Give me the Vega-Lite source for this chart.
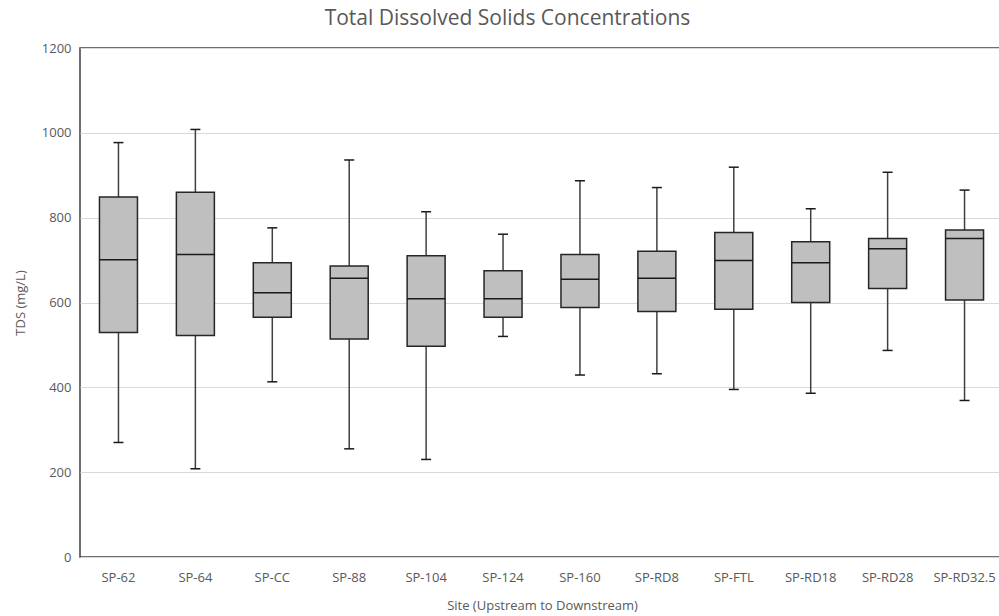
{
  "$schema": "https://vega.github.io/schema/vega-lite/v6.json",
  "width": 923,
  "height": 509,
  "autosize": "none",
  "padding": {"left": 80, "top": 48, "right": 0, "bottom": 59},
  "background": "white",
  "title": {"text": "Total Dissolved Solids Concentrations", "fontSize": 21, "font": "Open Sans", "fontWeight": "normal", "color": "#595959", "anchor": "middle", "dx": -34, "offset": 13},
  "config": {
    "view": {"stroke": "#404040", "strokeWidth": 1.5},
    "font": "Open Sans"
  },
  "data": {"values": [
    {"site": "SP-62", "min": 270, "q1": 529, "median": 701, "q3": 849, "max": 977},
    {"site": "SP-64", "min": 208, "q1": 522, "median": 713, "q3": 860, "max": 1008},
    {"site": "SP-CC", "min": 413, "q1": 565, "median": 623, "q3": 694, "max": 776},
    {"site": "SP-88", "min": 255, "q1": 514, "median": 657, "q3": 686, "max": 936},
    {"site": "SP-104", "min": 230, "q1": 497, "median": 609, "q3": 710, "max": 814},
    {"site": "SP-124", "min": 520, "q1": 565, "median": 609, "q3": 675, "max": 761},
    {"site": "SP-160", "min": 429, "q1": 588, "median": 655, "q3": 713, "max": 887},
    {"site": "SP-RD8", "min": 432, "q1": 579, "median": 657, "q3": 721, "max": 871},
    {"site": "SP-FTL", "min": 395, "q1": 584, "median": 699, "q3": 765, "max": 919},
    {"site": "SP-RD18", "min": 386, "q1": 600, "median": 694, "q3": 743, "max": 821},
    {"site": "SP-RD28", "min": 487, "q1": 633, "median": 727, "q3": 751, "max": 907},
    {"site": "SP-RD32.5", "min": 369, "q1": 606, "median": 751, "q3": 771, "max": 865}
  ]},
  "encoding": {
    "x": {
      "field": "site", "type": "nominal", "sort": null,
      "scale": {"paddingInner": 0, "paddingOuter": 0},
      "axis": {"title": "Site (Upstream to Downstream)", "labelAngle": 0, "labelFontSize": 13, "labelColor": "#595959", "labelPadding": 14, "ticks": false, "domain": false, "titleFontSize": 13, "titleFontWeight": "normal", "titleColor": "#595959", "titlePadding": 15, "titleX": 462, "titleAnchor": "middle"}
    }
  },
  "layer": [
    {
      "mark": {"type": "rule", "color": "#404040", "strokeWidth": 1.5},
      "encoding": {
        "y": {"field": "min", "type": "quantitative", "scale": {"domain": [0, 1200]},
          "axis": {"title": "TDS (mg/L)", "values": [0, 200, 400, 600, 800, 1000, 1200], "format": "d", "grid": true, "gridColor": "#d9d9d9", "domain": false, "ticks": false, "labelFontSize": 13, "labelColor": "#595959", "labelPadding": 9, "titleFontSize": 13, "titleFontWeight": "normal", "titleColor": "#595959", "titlePadding": 14}},
        "y2": {"field": "max"}
      }
    },
    {
      "mark": {"type": "bar", "size": 38, "fill": "#bfbfbf", "stroke": "#262626", "strokeWidth": 1.5},
      "encoding": {
        "y": {"field": "q1", "type": "quantitative"},
        "y2": {"field": "q3"}
      }
    },
    {
      "mark": {"type": "tick", "size": 38, "thickness": 1.5, "color": "#1a1a1a", "opacity": 1},
      "encoding": {"y": {"field": "median", "type": "quantitative"}}
    },
    {
      "mark": {"type": "tick", "size": 10, "thickness": 1.5, "color": "#1a1a1a", "opacity": 1},
      "encoding": {"y": {"field": "min", "type": "quantitative"}}
    },
    {
      "mark": {"type": "tick", "size": 10, "thickness": 1.5, "color": "#1a1a1a", "opacity": 1},
      "encoding": {"y": {"field": "max", "type": "quantitative"}}
    }
  ]
}
